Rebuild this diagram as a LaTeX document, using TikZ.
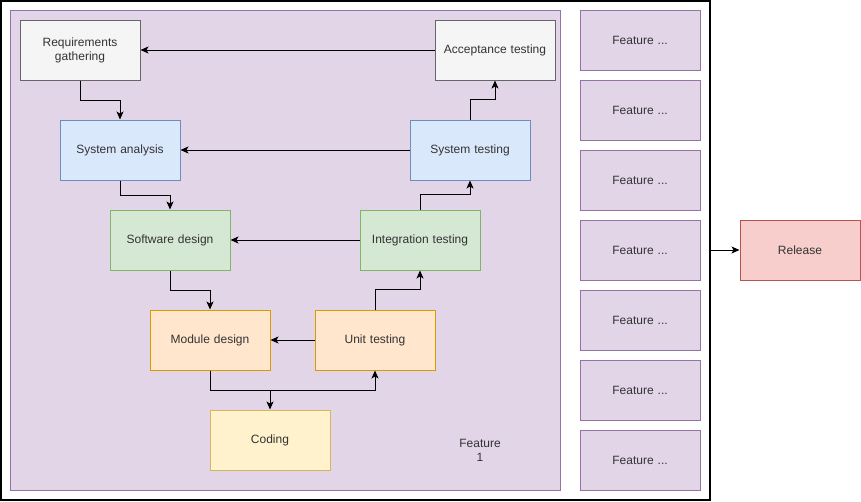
\documentclass[tikz,border=0pt]{standalone}
\usepackage{fontspec}
\setmainfont{Liberation Sans}
\usetikzlibrary{arrows.meta}
\definecolor{txt}{HTML}{333333}
\definecolor{greyF}{HTML}{F5F5F5}\definecolor{greyD}{HTML}{666666}
\definecolor{blueF}{HTML}{DAE8FC}\definecolor{blueD}{HTML}{6C8EBF}
\definecolor{greenF}{HTML}{D5E8D4}\definecolor{greenD}{HTML}{82B366}
\definecolor{orangeF}{HTML}{FFE6CC}\definecolor{orangeD}{HTML}{D79B00}
\definecolor{yellowF}{HTML}{FFF2CC}\definecolor{yellowD}{HTML}{D6B656}
\definecolor{purpleF}{HTML}{E1D5E7}\definecolor{purpleD}{HTML}{9673A6}
\definecolor{redF}{HTML}{F8CECC}\definecolor{redD}{HTML}{B85450}
\tikzset{
  box/.style={draw, line width=1pt, minimum width=120pt, minimum height=60pt, inner sep=2pt,
    align=center, text=txt, font=\fontsize{12pt}{14pt}\selectfont, text width=112pt},
  greybox/.style={box, fill=greyF, draw=greyD},
  bluebox/.style={box, fill=blueF, draw=blueD},
  greenbox/.style={box, fill=greenF, draw=greenD},
  orangebox/.style={box, fill=orangeF, draw=orangeD},
  yellowbox/.style={box, fill=yellowF, draw=yellowD},
  purplebox/.style={box, fill=purpleF, draw=purpleD},
  redbox/.style={box, fill=redF, draw=redD},
  conn/.style={draw=black, line width=1pt, -{Stealth[length=8pt,width=7pt,inset=2pt]}},
}
\begin{document}
\begin{tikzpicture}[x=1pt,y=-1pt]
\useasboundingbox (0,0) rectangle (861,501);
% outer frame
\node[draw=black, line width=1.5pt, minimum width=709pt, minimum height=499pt, inner sep=0pt] (outer) at (355.25,250.25) {};
% feature 1 container
\node[draw=purpleD, fill=purpleF, line width=1pt, minimum width=550pt, minimum height=480pt, inner sep=0pt] (f1) at (285,250) {};
\node[text=txt, font=\fontsize{12pt}{14pt}\selectfont, align=center] (f1lbl) at (480,450) {Feature\\1};
% V-model nodes
\node[greybox] (req) at (80,50) {Requirements gathering};
\node[greybox] (acc) at (495,50) {Acceptance testing};
\node[bluebox] (sa) at (120,150) {System analysis};
\node[bluebox] (st) at (470,150) {System testing};
\node[greenbox] (sd) at (170,240) {Software design};
\node[greenbox] (it) at (420,240) {Integration testing};
\node[orangebox] (md) at (210,340) {Module design};
\node[orangebox] (ut) at (375,340) {Unit testing};
\node[yellowbox] (cod) at (270,440) {Coding};
% feature boxes
\foreach \i/\y in {1/40,2/110,3/180,4/250,5/320,6/390,7/460}{
  \node[purplebox] (fe\i) at (640,\y) {Feature ...};
}
\node[redbox] (rel) at (800,250) {Release};
% connectors
\draw[conn] (acc.west) -- (req.east);
\draw[conn] (st.west) -- (sa.east);
\draw[conn] (it.west) -- (sd.east);
\draw[conn] (ut.west) -- (md.east);
\draw[conn] (req.south) -- ++(0,20) -| (sa.north);
\draw[conn] (sa.south) -- ++(0,15) -| (sd.north);
\draw[conn] (sd.south) -- ++(0,20) -| (md.north);
\draw[conn] (md.south) -- ++(0,20) -| (cod.north);
\draw[conn] (md.south) -- ++(0,20) -| (ut.south);
\draw[conn] (ut.north) -- ++(0,-20) -| (it.south);
\draw[conn] (it.north) -- ++(0,-15) -| (st.south);
\draw[conn] (st.north) -- ++(0,-20) -| (acc.south);
\draw[conn] (outer.east |- rel.west) -- (rel.west);
\end{tikzpicture}
\end{document}
